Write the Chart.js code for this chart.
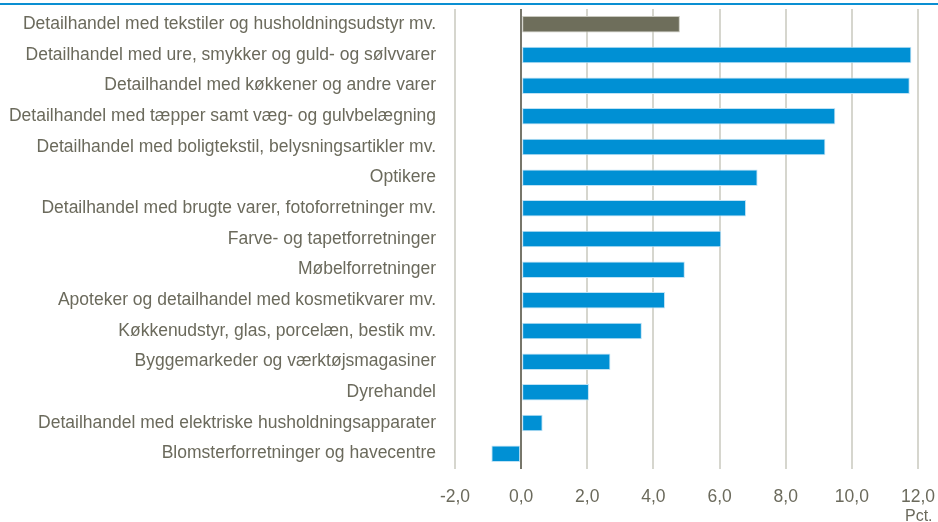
<!DOCTYPE html>
<html>
<head>
<meta charset="utf-8">
<script src="https://cdn.jsdelivr.net/npm/chart.js@4"></script>
<style>
  html, body { margin: 0; padding: 0; background: #fff; }
  #wrap { position: relative; width: 938px; height: 522px; overflow: hidden; }
  #topline { position: absolute; left: 0; top: 3px; width: 938px; height: 2px; background: #0a8fd2; }
  canvas { position: absolute; left: 0; top: 0; }
</style>
</head>
<body>
<div id="wrap">
  <div id="topline"></div>
  <canvas id="salesChart" width="938" height="522"></canvas>
</div>
<script>
const categories = [
  'Detailhandel med tekstiler og husholdningsudstyr mv.',
  'Detailhandel med ure, smykker og guld- og sølvvarer',
  'Detailhandel med køkkener og andre varer',
  'Detailhandel med tæpper samt væg- og gulvbelægning',
  'Detailhandel med boligtekstil, belysningsartikler mv.',
  'Optikere',
  'Detailhandel med brugte varer, fotoforretninger mv.',
  'Farve- og tapetforretninger',
  'Møbelforretninger',
  'Apoteker og detailhandel med kosmetikvarer mv.',
  'Køkkenudstyr, glas, porcelæn, bestik mv.',
  'Byggemarkeder og værktøjsmagasiner',
  'Dyrehandel',
  'Detailhandel med elektriske husholdningsapparater',
  'Blomsterforretninger og havecentre'
];

const growth = [4.8, 11.8, 11.75, 9.5, 9.2, 7.15, 6.8, 6.05, 4.95, 4.35, 3.65, 2.7, 2.05, 0.65, -0.9];

const xTicks = [-2, 0, 2, 4, 6, 8, 10, 12];
const unitLabel = 'Pct.';

const textColor = '#6b6a5c';
const font = { family: 'Liberation Sans, Arial, sans-serif', size: 17.5 };

const unitPlugin = {
  id: 'unitLabel',
  afterDraw(chart) {
    const c = chart.ctx;
    const xs = chart.scales.x;
    c.save();
    c.fillStyle = textColor;
    c.font = '16px ' + font.family;
    c.textAlign = 'left';
    c.textBaseline = 'top';
    c.fillText(unitLabel, xs.right - 13, 509);
    c.restore();
  }
};

const ctx = document.getElementById('salesChart').getContext('2d');
const chart = new Chart(ctx, {
  type: 'bar',
  data: {
    labels: categories,
    datasets: [{
      data: growth,
      backgroundColor: growth.map((v, i) => i === 0 ? '#6e6e5b' : '#0090d4'),
      borderColor: growth.map((v, i) => i === 0 ? '#c9c9bf' : '#bfe2f5'),
      borderWidth: 1,
      borderSkipped: false,
      barPercentage: 0.9,
      categoryPercentage: 0.6
    }]
  },
  options: {
    indexAxis: 'y',
    responsive: false,
    animation: false,
    layout: { padding: { top: 9, right: 20, left: 0, bottom: 0 } },
    plugins: {
      legend: { display: false },
      tooltip: { enabled: false }
    },
    scales: {
      x: {
        min: -2,
        max: 12,
        afterBuildTicks: s => { s.ticks = xTicks.map(v => ({ value: v })); },
        afterFit: s => {
          s.height = 53;
          s.paddingLeft = 0;
          s.paddingRight = 0;
        },
        border: { display: false },
        grid: {
          drawTicks: false,
          color: c => c.tick && c.tick.value === 0 ? '#77766a' : '#d6d6ce',
          lineWidth: 2
        },
        ticks: {
          padding: 18,
          color: textColor,
          font: font,
          callback: v => v.toFixed(1).replace('.', ',')
        }
      },
      y: {
        afterFit: s => {
          s.width = 455;
          s.paddingTop = 0;
          s.paddingBottom = 0;
        },
        border: { display: false },
        grid: { display: false, drawTicks: false },
        ticks: {
          padding: 19,
          color: textColor,
          font: font,
          autoSkip: false
        }
      }
    }
  },
  plugins: [unitPlugin]
});
</script>
</body>
</html>
